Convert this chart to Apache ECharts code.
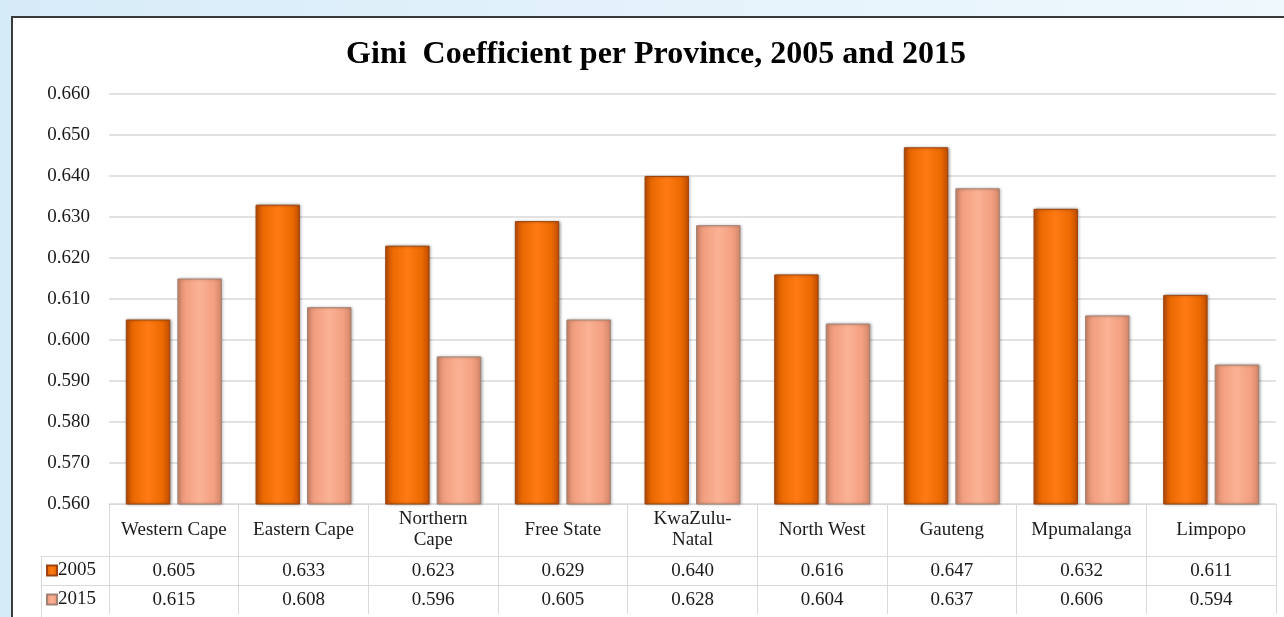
<!DOCTYPE html>
<html>
<head>
<meta charset="utf-8">
<script src="https://cdn.jsdelivr.net/npm/echarts@6/dist/echarts.min.js"></script>
<style>
    html, body { margin: 0; padding: 0; }
    body {
        width: 1284px; height: 617px; overflow: hidden; position: relative;
        background: linear-gradient(90deg, #d6ebf8 0%, #e4f2fb 50%, #eef8fd 100%);
    }
    #frame {
        position: absolute; left: 11px; top: 16px; width: 1290px; height: 620px;
        background: #fff; border-left: 2px solid #3a3a3a; border-top: 2px solid #3a3a3a;
    }
    #main { position: absolute; left: 0; top: 0; width: 1284px; height: 617px; }
</style>
</head>
<body>
<div id="frame"></div>
<div id="main"></div>
<script>
// 数据
let provinces = ['Western Cape', 'Eastern Cape', 'Northern\nCape', 'Free State', 'KwaZulu-\nNatal',
    'North West', 'Gauteng', 'Mpumalanga', 'Limpopo']
let years = ['2005', '2015']
let gini2005 = [0.605, 0.633, 0.623, 0.629, 0.640, 0.616, 0.647, 0.632, 0.611]
let gini2015 = [0.615, 0.608, 0.596, 0.605, 0.628, 0.604, 0.637, 0.606, 0.594]
let yTicks = [0.560, 0.570, 0.580, 0.590, 0.600, 0.610, 0.620, 0.630, 0.640, 0.650, 0.660]

let FONT = '"Liberation Serif", "Times New Roman", serif'
let LINE = '#d9d9d9'
let TXT = 19

// 柱子渐变 (模拟圆柱效果)
function barGrad (edge, mid, center) {
    return new echarts.graphic.LinearGradient(0, 0, 1, 0, [
        {offset: 0, color: edge},
        {offset: 0.18, color: mid},
        {offset: 0.5, color: center},
        {offset: 0.82, color: mid},
        {offset: 1, color: edge}
    ])
}
let color2005 = barGrad('#c04e00', '#ec6a02', '#ff7a14')
let color2015 = barGrad('#d4876a', '#f29f80', '#fbb294')

let myChart = echarts.init(document.getElementById('main'))

// 表格中的数值行 (额外的 x 轴)
function tableAxis (values, offset) {
    return {
        type: 'category',
        data: values.map(v => v.toFixed(3)),
        position: 'bottom',
        offset: offset,
        axisLine: {show: true, lineStyle: {color: LINE, width: 1}},
        axisTick: {show: true, length: 29, lineStyle: {color: LINE}},
        axisLabel: {interval: 0, margin: 15, verticalAlign: 'middle',
            fontFamily: FONT, fontSize: TXT, color: '#1a1a1a'},
        splitLine: {show: false}
    }
}

// 图例 (表格左列)
function legendRow (name, top) {
    return {
        data: [name], left: 46, top: top, padding: 0,
        itemWidth: 10, itemHeight: 10, icon: 'rect',
        textStyle: {fontFamily: FONT, fontSize: TXT, color: '#1a1a1a', padding: [0, 0, 0, -4]}
    }
}

myChart.setOption({
    animation: false,
    title: {
        text: 'Gini  Coefficient per Province, 2005 and 2015',
        left: 651, top: 34, textAlign: 'center',
        textStyle: {fontFamily: FONT, fontSize: 32, fontWeight: 'bold', color: '#000'}
    },
    legend: [legendRow(years[0], 561), legendRow(years[1], 590)],
    grid: {left: 109, right: 8, top: 94, bottom: 113},
    xAxis: [
        {
            type: 'category',
            data: provinces,
            axisLine: {show: true, lineStyle: {color: LINE, width: 1}},
            axisTick: {show: true, length: 52, lineStyle: {color: LINE}},
            axisLabel: {interval: 0, margin: 26, verticalAlign: 'middle', lineHeight: 21,
                fontFamily: FONT, fontSize: TXT, color: '#1a1a1a'},
            splitLine: {show: false}
        },
        tableAxis(gini2005, 52),
        tableAxis(gini2015, 81)
    ],
    yAxis: {
        type: 'value',
        min: 0.56, max: 0.66, interval: 0.01,
        axisLine: {show: false},
        axisTick: {show: false},
        axisLabel: {margin: 19, fontFamily: FONT, fontSize: TXT, color: '#1a1a1a',
            formatter: v => v.toFixed(3)},
        splitLine: {lineStyle: {color: LINE, width: 1.5}}
    },
    series: [
        {
            name: years[0], type: 'bar', data: gini2005,
            barGap: '16%', barCategoryGap: '26%',
            itemStyle: {color: color2005, borderColor: '#9c4512', borderWidth: 1,
                shadowBlur: 3, shadowColor: 'rgba(0,0,0,0.35)', shadowOffsetX: 1, shadowOffsetY: 0}
        },
        {
            name: years[1], type: 'bar', data: gini2015,
            itemStyle: {color: color2015, borderColor: '#a28274', borderWidth: 1,
                shadowBlur: 3, shadowColor: 'rgba(0,0,0,0.3)', shadowOffsetX: 1, shadowOffsetY: 0}
        }
    ],
    // 图例列的表格线
    graphic: [
        {type: 'line', shape: {x1: 41, y1: 556.5, x2: 109, y2: 556.5}, style: {stroke: LINE, lineWidth: 1}},
        {type: 'line', shape: {x1: 41, y1: 585.5, x2: 109, y2: 585.5}, style: {stroke: LINE, lineWidth: 1}},
        {type: 'line', shape: {x1: 41.5, y1: 556, x2: 41.5, y2: 617}, style: {stroke: LINE, lineWidth: 1}}
    ]
})
</script>
</body>
</html>
